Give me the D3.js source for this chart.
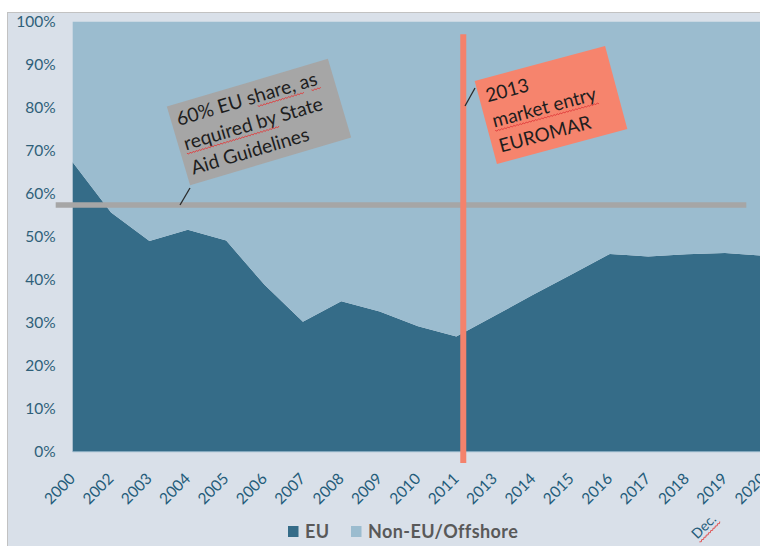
<!DOCTYPE html>
<html><head><meta charset="utf-8">
<script src="https://cdn.jsdelivr.net/npm/d3@7/dist/d3.min.js"></script>
<style>
body{margin:0;background:#fff}
svg{display:block;font-family:Lato,"Open Sans","Noto Sans",sans-serif}
</style>
</head><body>
<svg id="chart" width="760" height="546"></svg>
<script>
// ---- data ----
const years = ["2000","2002","2003","2004","2005","2006","2007","2008","2009","2010","2011","2013","2014","2015","2016","2017","2018","2019","2020"];
const euShare = [67.3,55.6,49.0,51.6,49.1,38.8,30.2,35.0,32.6,29.2,26.8,31.6,36.5,41.2,46.0,45.4,45.9,46.2,45.6];
const nonEuShare = [32.7,44.4,51.0,48.4,50.9,61.2,69.8,65.0,67.4,70.8,73.2,68.4,63.5,58.8,54.0,54.6,54.1,53.8,54.4];
const yTickValues = [0,0.1,0.2,0.3,0.4,0.5,0.6,0.7,0.8,0.9,1.0];
const seriesKeys = ["EU","NonEU"];
const seriesLabels = ["EU","Non-EU/Offshore"];
const seriesColors = ["#356c88","#9bbccf"];
const aidThreshold = 0.574;          // drawn position of the "60%" guideline
const euromarYear = "2011";          // vertical marker sits just after this category
const euromarOffset = 0.18;          // fraction of a category step
const noteAid = ["60% EU share, as","required by State","Aid Guidelines"];
const noteEuromar = ["2013","market entry","EUROMAR"];
const footnote = "Dec.";

// ---- setup ----
const svg = d3.select("#chart");
svg.append("rect").attr("x",7.5).attr("y",12.5).attr("width",780).attr("height",560)
  .attr("fill","#d9e0e9").attr("stroke","#c2c2c2");

const x = d3.scalePoint().domain(years).range([72.7, 763.3]);
const y = d3.scaleLinear().domain([0,1]).range([451.7, 21.7]);

const table = years.map((yr,i)=>({year:yr, EU:euShare[i]/100, NonEU:nonEuShare[i]/100}));
const stacked = d3.stack().keys(seriesKeys)(table);
const area = d3.area().x(d=>x(d.data.year)).y0(d=>y(d[0])).y1(d=>y(d[1]));

svg.append("g").selectAll("path").data(stacked).join("path")
  .attr("d",area).attr("fill",(d,i)=>seriesColors[i]);

// baseline
svg.append("line").attr("x1",x.range()[0]).attr("x2",x.range()[1])
  .attr("y1",y(0)).attr("y2",y(0)).attr("stroke","#8fb0c6").attr("stroke-width",1);

// y axis
const yAxis = svg.append("g").attr("transform",`translate(${x.range()[0]},0)`)
  .call(d3.axisLeft(y).tickValues(yTickValues).tickFormat(d3.format(".0%")).tickSize(0).tickPadding(17));
yAxis.select(".domain").remove();
yAxis.selectAll("text").attr("font-size",15.5).attr("fill","#2f5f79").style("font-family","Lato,sans-serif");

// x axis
const xAxis = svg.append("g").attr("transform",`translate(0,${y(0)})`)
  .call(d3.axisBottom(x).tickSize(0));
xAxis.select(".domain").remove();
xAxis.selectAll("text").attr("font-size",15.5).attr("fill","#245c7a").style("font-family","Lato,sans-serif")
  .attr("x",0).attr("y",0).attr("dy",0).attr("text-anchor","end")
  .attr("transform","translate(3,28) rotate(-45)");

// guideline (grey)
svg.append("line").attr("x1",x.range()[0]-17).attr("x2",x.range()[1]-17)
  .attr("y1",y(aidThreshold)).attr("y2",y(aidThreshold))
  .attr("stroke","#a6a6a6").attr("stroke-width",5.5);

// EUROMAR marker (salmon)
const mx = x(euromarYear) + euromarOffset*x.step();
svg.append("line").attr("x1",mx).attr("x2",mx).attr("y1",y(0.971)).attr("y2",y(-0.026))
  .attr("stroke","#f4826c").attr("stroke-width",6);

function wavy(g, x1, x2, yy){
  let d = `M${x1},${yy}`; let k=0;
  for(let xx=x1; xx<x2; xx+=1.6, k++) d += `L${xx+1.6},${yy + (k%2===0?1.3:0)}`;
  g.append("path").attr("d",d).attr("fill","none").attr("stroke","#e03c3c").attr("stroke-width",0.8);
}

function note(cx, cy, angle, w, h, fill, lines, pad, base, lh, fs, underlines){
  const g = svg.append("g").attr("transform",`translate(${cx},${cy}) rotate(${angle})`);
  g.append("rect").attr("x",-w/2).attr("y",-h/2).attr("width",w).attr("height",h).attr("fill",fill);
  lines.forEach((t,i)=>{
    const tx = g.append("text").attr("x",-w/2+pad).attr("y",-h/2+base+i*lh)
      .attr("font-size",fs).attr("fill","#1e1e1e").text(t);
    (underlines[i]||[]).forEach(([a,b])=>{
      const n = tx.node();
      const off = a>0 ? n.getSubStringLength(0,a) : 0;
      const len = n.getSubStringLength(a,b-a);
      wavy(g, -w/2+pad+off, -w/2+pad+off+len, -h/2+base+i*lh+3);
    });
  });
  return g;
}

// leader lines
svg.append("line").attr("x1",190).attr("y1",188).attr("x2",180).attr("y2",205).attr("stroke","#2b2b2b").attr("stroke-width",1.3);
svg.append("line").attr("x1",475).attr("y1",88).attr("x2",465).attr("y2",106).attr("stroke","#2b2b2b").attr("stroke-width",1.3);

note(259,122,-16.5,168,82,"#a6a6a6",noteAid,6,22,25.5,19.3,[[[8,14],[15,17]],[[0,11]]]);
note(551,105,-15,135,86,"#f6846d",noteEuromar,7,24,26,19,[[],[[0,12]]]);

// legend
const legend = svg.append("g");
const legendX = [288, 351];
seriesLabels.forEach((lab,i)=>{
  legend.append("rect").attr("x",legendX[i]).attr("y",526).attr("width",10.5).attr("height",11).attr("fill",seriesColors[i]);
  legend.append("text").attr("x",legendX[i]+17).attr("y",538).attr("font-size",18).attr("font-weight","bold")
    .style("letter-spacing","0.4px").attr("fill","#595959").text(lab);
});

// footnote
const fg = svg.append("g").attr("transform","translate(717,520) rotate(-45)");
const ft = fg.append("text").attr("x",0).attr("y",0).attr("text-anchor","end").attr("font-size",14).attr("fill","#245c7a").text(footnote);
const fw = ft.node().getComputedTextLength();
wavy(fg, -fw, 0, 3);
</script>
</body></html>
